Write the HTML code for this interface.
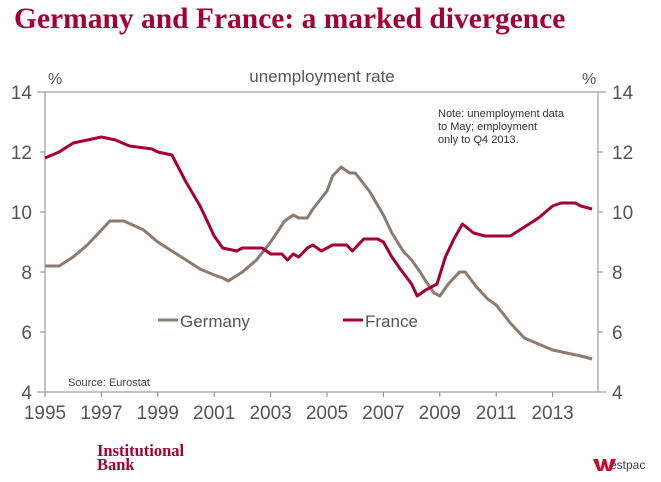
<!DOCTYPE html>
<html><head><meta charset="utf-8"><style>
body{margin:0;background:#fff;width:661px;height:477px;overflow:hidden;font-family:"Liberation Sans",sans-serif}
</style></head><body>
<svg width="661" height="477" xmlns="http://www.w3.org/2000/svg">
<text x="14" y="28" font-family="Liberation Serif" font-weight="bold" font-size="29.5" fill="#a50034">Germany and France: a marked divergence</text>
<text x="322" y="82" text-anchor="middle" font-size="17" fill="#555">unemployment rate</text>
<text x="48" y="84" font-size="16" fill="#555">%</text>
<text x="582" y="84" font-size="16" fill="#555">%</text>
<g id="axes"></g>
<g id="series"></g>
<text x="438" y="117" font-size="11" fill="#333"><tspan x="438">Note: unemployment data</tspan><tspan x="438" dy="13">to May; employment</tspan><tspan x="438" dy="13">only to Q4 2013.</tspan></text>
<text x="68" y="386" font-size="11" fill="#444">Source: Eurostat</text>
<g><line x1="158" y1="320" x2="178" y2="320" stroke="#8c7b6e" stroke-width="3"/><text x="180" y="327" font-size="17" fill="#555">Germany</text></g>
<g><line x1="343" y1="320" x2="363" y2="320" stroke="#a50034" stroke-width="3"/><text x="365" y="327" font-size="17" fill="#555">France</text></g>
<text x="97" y="456" font-family="Liberation Serif" font-weight="bold" font-size="16.5" fill="#a50034"><tspan x="97">Institutional</tspan><tspan x="97" dy="14">Bank</tspan></text>
<g><text x="610" y="469" font-size="12" fill="#444">estpac</text><path d="M593 459 l5 0 2.5 10 2.5 -10 3 0 2.5 10 2.5 -10 5 0 -5 12 -4.5 0 -2 -6 -2 6 -4.5 0z" fill="#d5002b"/></g>
</svg>
<script>
const yearsG=[1995,1995.5,1996,1996.5,1997,1997.3,1997.8,1998.5,1999,1999.5,2000,2000.5,2001,2001.3,2001.5,2002,2002.5,2003,2003.5,2003.8,2004,2004.3,2004.5,2005,2005.2,2005.5,2005.8,2006,2006.5,2007,2007.3,2007.7,2008,2008.3,2008.5,2008.8,2009,2009.3,2009.7,2009.9,2010.3,2010.7,2011,2011.5,2012,2012.5,2013,2013.5,2014,2014.4];
const germany=[8.2,8.2,8.5,8.9,9.4,9.7,9.7,9.4,9.0,8.7,8.4,8.1,7.9,7.8,7.7,8.0,8.4,9.0,9.7,9.9,9.8,9.8,10.1,10.7,11.2,11.5,11.3,11.3,10.7,9.9,9.3,8.7,8.4,8.0,7.7,7.3,7.2,7.6,8.0,8.0,7.5,7.1,6.9,6.3,5.8,5.6,5.4,5.3,5.2,5.1];
const yearsF=[1995,1995.5,1996,1996.5,1997,1997.5,1998,1998.8,1999,1999.5,2000,2000.5,2001,2001.3,2001.8,2002,2002.7,2003,2003.4,2003.6,2003.8,2004,2004.3,2004.5,2004.8,2005.2,2005.7,2005.9,2006.3,2006.8,2007,2007.3,2007.6,2008,2008.2,2008.5,2008.9,2009.2,2009.5,2009.8,2010.2,2010.6,2011,2011.5,2012,2012.5,2013,2013.3,2013.8,2014,2014.4];
const france=[11.8,12.0,12.3,12.4,12.5,12.4,12.2,12.1,12.0,11.9,11.0,10.2,9.2,8.8,8.7,8.8,8.8,8.6,8.6,8.4,8.6,8.5,8.8,8.9,8.7,8.9,8.9,8.7,9.1,9.1,9.0,8.5,8.1,7.6,7.2,7.4,7.6,8.5,9.1,9.6,9.3,9.2,9.2,9.2,9.5,9.8,10.2,10.3,10.3,10.2,10.1];
const yTicks=[4,6,8,10,12,14];
const xTicks=[1995,1997,1999,2001,2003,2005,2007,2009,2011,2013];
const NS="http://www.w3.org/2000/svg";
const X0=45,XR=598,Y0=392;
function sx(y){return X0+(y-1995)*28.2;}
function sy(v){return Y0-(v-4)*30;}
function mk(t,a,p){const e=document.createElementNS(NS,t);for(const k in a)e.setAttribute(k,a[k]);p.appendChild(e);return e;}
const ax=document.getElementById('axes');
let l=mk('line',{x1:X0,y1:sy(14),x2:X0,y2:Y0,stroke:'#888'},ax);
l=mk('line',{x1:XR,y1:sy(14),x2:XR,y2:Y0,stroke:'#888'},ax);
l=mk('line',{x1:X0-8,y1:sy(14),x2:XR+8,y2:sy(14),stroke:'#888'},ax);
l=mk('line',{x1:X0-8,y1:Y0,x2:XR+8,y2:Y0,stroke:'#888'},ax);
yTicks.forEach(v=>{
 const t1=mk('line',{x1:X0-5,y1:sy(v),x2:X0,y2:sy(v),stroke:'#888'},ax);
 const t2=mk('line',{x1:XR,y1:sy(v),x2:XR+5,y2:sy(v),stroke:'#888'},ax);
 const a=mk('text',{x:X0-13,y:sy(v)+7,'text-anchor':'end','font-size':19,fill:'#555'},ax);a.textContent=v;
 
 
 const b=mk('text',{x:XR+14,y:sy(v)+7,'font-size':19,fill:'#555'},ax);b.textContent=v;
 
 
});
xTicks.forEach(v=>{
 mk('line',{x1:sx(v),y1:Y0,x2:sx(v),y2:Y0+5,stroke:'#888'},ax);
 const a=mk('text',{x:sx(v),y:Y0+27,'text-anchor':'middle','font-size':19,fill:'#555'},ax);a.textContent=v;
 
 
});
const sr=document.getElementById('series');
function line(xs,vs,c,n){
 const p=mk('polyline',{points:xs.map((x,i)=>sx(x).toFixed(1)+','+sy(vs[i]).toFixed(1)).join(' '),fill:'none',stroke:c,'stroke-width':3,'stroke-linejoin':'round'},sr);
 
 
}
line(yearsG,germany,'#8c7b6e','germany-line');
line(yearsF,france,'#a50034','france-line');
</script>
</body></html>
